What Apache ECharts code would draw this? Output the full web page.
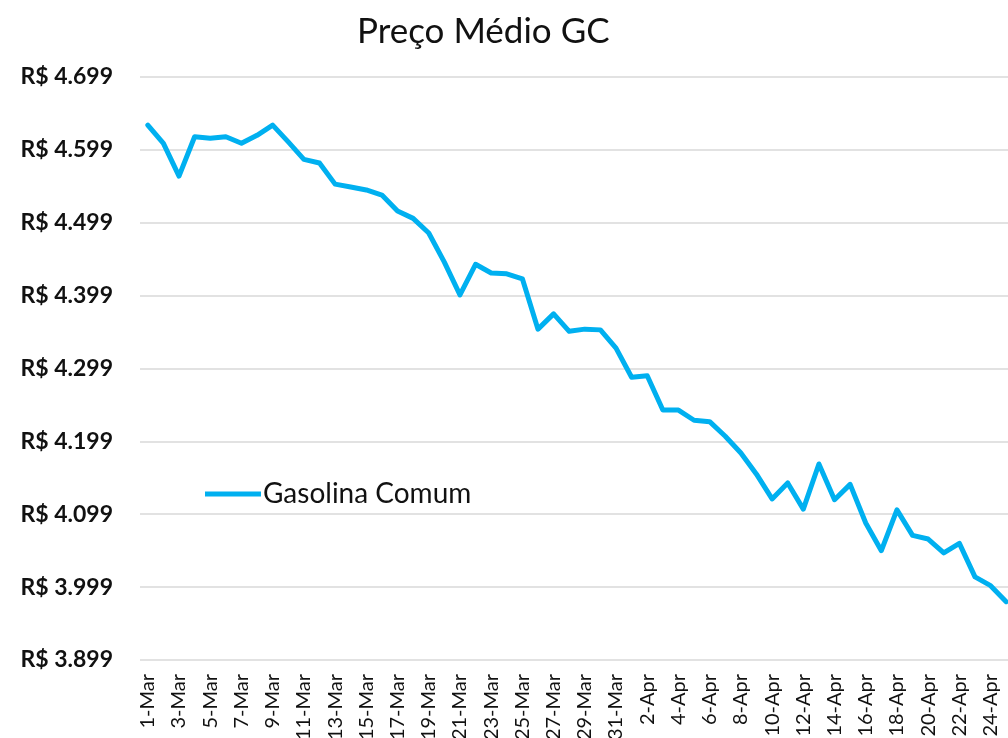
<!DOCTYPE html>
<html>
<head>
<meta charset="utf-8">
<script src="https://cdn.jsdelivr.net/npm/echarts@6/dist/echarts.min.js"></script>
<style>
	html, body { margin: 0; padding: 0; background: #fff; }
	#chart { width: 1008px; height: 738px; }
</style>
</head>
<body>
<div id="chart"></div>
<script>
var myChart = echarts.init(document.getElementById('chart'));

// days, 1-Mar .. 25-Apr
var dias = [
	'1-Mar','2-Mar','3-Mar','4-Mar','5-Mar','6-Mar','7-Mar','8-Mar','9-Mar','10-Mar',
	'11-Mar','12-Mar','13-Mar','14-Mar','15-Mar','16-Mar','17-Mar','18-Mar','19-Mar','20-Mar',
	'21-Mar','22-Mar','23-Mar','24-Mar','25-Mar','26-Mar','27-Mar','28-Mar','29-Mar','30-Mar',
	'31-Mar','1-Apr','2-Apr','3-Apr','4-Apr','5-Apr','6-Apr','7-Apr','8-Apr','9-Apr',
	'10-Apr','11-Apr','12-Apr','13-Apr','14-Apr','15-Apr','16-Apr','17-Apr','18-Apr','19-Apr',
	'20-Apr','21-Apr','22-Apr','23-Apr','24-Apr','25-Apr'
];
var gasolina = [
	4.633, 4.608, 4.563, 4.617, 4.615, 4.617, 4.608, 4.619, 4.633, 4.610,
	4.586, 4.581, 4.552, 4.548, 4.544, 4.537, 4.515, 4.505, 4.485, 4.445,
	4.400, 4.442, 4.430, 4.429, 4.422, 4.353, 4.374, 4.350, 4.353, 4.352,
	4.327, 4.287, 4.289, 4.242, 4.242, 4.228, 4.226, 4.206, 4.183, 4.154,
	4.120, 4.142, 4.106, 4.168, 4.119, 4.140, 4.087, 4.049, 4.105, 4.070,
	4.065, 4.046, 4.059, 4.013, 4.001, 3.979
];
var yMin = 3.899;
var yMax = 4.699;
var yStep = 0.1;

option = {
	animation: false,
	backgroundColor: '#ffffff',
	title: {
		text: 'Preço Médio GC',
		left: 352,
		top: 9,
		textStyle: {
			fontFamily: 'Lato',
			fontSize: 35,
			fontWeight: 'normal',
			color: '#111111'
		}
	},
	legend: {
		left: 205,
		top: 480,
		padding: 0,
		itemWidth: 56,
		itemHeight: 5,
		itemGap: 0,
		textStyle: {
			fontFamily: 'Lato',
			fontSize: 28,
			color: '#111111',
			padding: [0, 0, 0, -3]
		},
		data: [{ name: 'Gasolina Comum', icon: 'rect' }]
	},
	grid: {
		left: 140,
		top: 77,
		bottom: 78,
		width: 874,
		outerBoundsMode: 'none'
	},
	xAxis: {
		type: 'category',
		boundaryGap: true,
		data: dias,
		axisLine: { show: false },
		axisTick: { show: false },
		axisLabel: {
			interval: 1,
			rotate: 90,
			margin: 14,
			fontFamily: 'Lato',
			fontSize: 20,
			color: '#111111'
		}
	},
	yAxis: {
		type: 'value',
		min: yMin,
		max: yMax,
		interval: yStep,
		axisLine: { show: false },
		axisTick: { show: false },
		splitLine: {
			lineStyle: { color: '#d9d9d9', width: 1.5 }
		},
		axisLabel: {
			margin: 27,
			fontFamily: 'Lato',
			fontSize: 23,
			fontWeight: 'bold',
			color: '#111111',
			formatter: function (v) {
				return 'R$ ' + v.toFixed(3);
			}
		}
	},
	series: [{
		name: 'Gasolina Comum',
		type: 'line',
		symbol: 'none',
		data: gasolina,
		itemStyle: { color: '#00b0f0' },
		lineStyle: { color: '#00b0f0', width: 5, join: 'round', cap: 'round' }
	}]
};
myChart.setOption(option);
</script>
</body>
</html>
